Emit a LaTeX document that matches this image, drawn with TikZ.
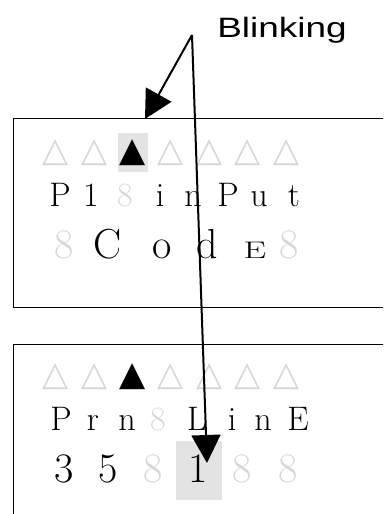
\documentclass[tikz,border=0pt]{standalone}
\usepackage{fontspec}
\newfontfamily\symfont{DejaVu Sans}
\newfontfamily\labelfont{Liberation Sans}
\usetikzlibrary{arrows.meta}
\definecolor{segoff}{gray}{0.84}
\definecolor{blinkbg}{gray}{0.89}
\tikzset{
  panel/.style={draw, line width=1.2pt, anchor=north west, minimum width=400pt},
  blinkbox/.style={fill=blinkbg, inner sep=0pt},
  tri/.style={font=\symfont\fontsize{34}{34}\selectfont, inner sep=0pt},
  triOff/.style={tri, text=segoff},
  seg/.style={font=\fontsize{34}{34}\selectfont, anchor=base, inner sep=0pt},
  segBig/.style={font=\fontsize{42}{42}\selectfont, anchor=base, inner sep=0pt},
  segSmall/.style={font=\fontsize{24}{24}\selectfont, xscale=1.5, anchor=base, inner sep=0pt},
  off/.style={text=segoff}
}

\begin{document}
\begin{tikzpicture}[x=1pt, y=-1pt]
\useasboundingbox (0,0) rectangle (383,514);
\clip (0,0) rectangle (383,514);

% upper display
\node (panelA) [panel, minimum height=189pt] at (13,118) {};
\node (hlA) [blinkbox, minimum width=30pt, minimum height=39pt] at (133,152.5) {};
\node (a1) [triOff] at (56,153) {△};
\node (a2) [triOff] at (95,153) {△};
\node (a3) [tri] at (133,153) {▲};
\node (a4) [triOff] at (171,153) {△};
\node (a5) [triOff] at (210,153) {△};
\node (a6) [triOff] at (248,153) {△};
\node (a7) [triOff] at (287,153) {△};
\node (p1) [seg] at (60,206) {P};
\node (p2) [seg] at (91,206) {1};
\node (p3) [seg, off] at (125,206) {8};
\node (p4) [seg] at (160,206) {i};
\node (p5) [seg] at (193,206) {n};
\node (p6) [seg] at (228,206) {P};
\node (p7) [seg] at (259,206) {u};
\node (p8) [seg] at (294,206) {t};
\node (c1) [segBig, off] at (64,258) {8};
\node (c2) [segBig] at (108,258) {C};
\node (c3) [segBig] at (162,258) {o};
\node (c4) [segBig] at (207,258) {d};
\node (c5) [segSmall] at (255,258) {E};
\node (c6) [segBig, off] at (289,258) {8};

% lower display
\node (panelB) [panel, minimum height=200pt] at (13,344) {};
\node (hlB) [blinkbox, minimum width=46pt, minimum height=59pt] at (199,470.5) {};
\node (b1) [triOff] at (56,377) {△};
\node (b2) [triOff] at (95,377) {△};
\node (b3) [tri] at (133,377) {▲};
\node (b4) [triOff] at (171,377) {△};
\node (b5) [triOff] at (210,377) {△};
\node (b6) [triOff] at (248,377) {△};
\node (b7) [triOff] at (287,377) {△};
\node (l1) [seg] at (61,430) {P};
\node (l2) [seg] at (93,430) {r};
\node (l3) [seg] at (127,430) {n};
\node (l4) [seg, off] at (158,430) {8};
\node (l5) [seg] at (197,430) {L};
\node (l6) [seg] at (232,430) {i};
\node (l7) [seg] at (263,430) {n};
\node (l8) [seg] at (298,430) {E};
\node (d1) [segBig] at (64,482) {3};
\node (d2) [segBig] at (108,482) {5};
\node (d3) [segBig, off] at (153,482) {8};
\node (d4) [segBig] at (198,482) {1};
\node (d5) [segBig, off] at (242,482) {8};
\node (d6) [segBig, off] at (288,482) {8};

% callout
\node (blink) [font=\labelfont\fontsize{28}{28}\selectfont, xscale=1.32, inner sep=0pt] at (282,30) {Blinking};
\coordinate (src) at (192,35);
\coordinate (tipA) at (145,119);
\coordinate (tipB) at (207,463);
\begin{scope}[line width=2pt, -{Triangle[length=28pt, width=29pt]}]
\draw (src) -- (tipA);
\draw (src) -- (tipB);
\end{scope}

\end{tikzpicture}
\end{document}
